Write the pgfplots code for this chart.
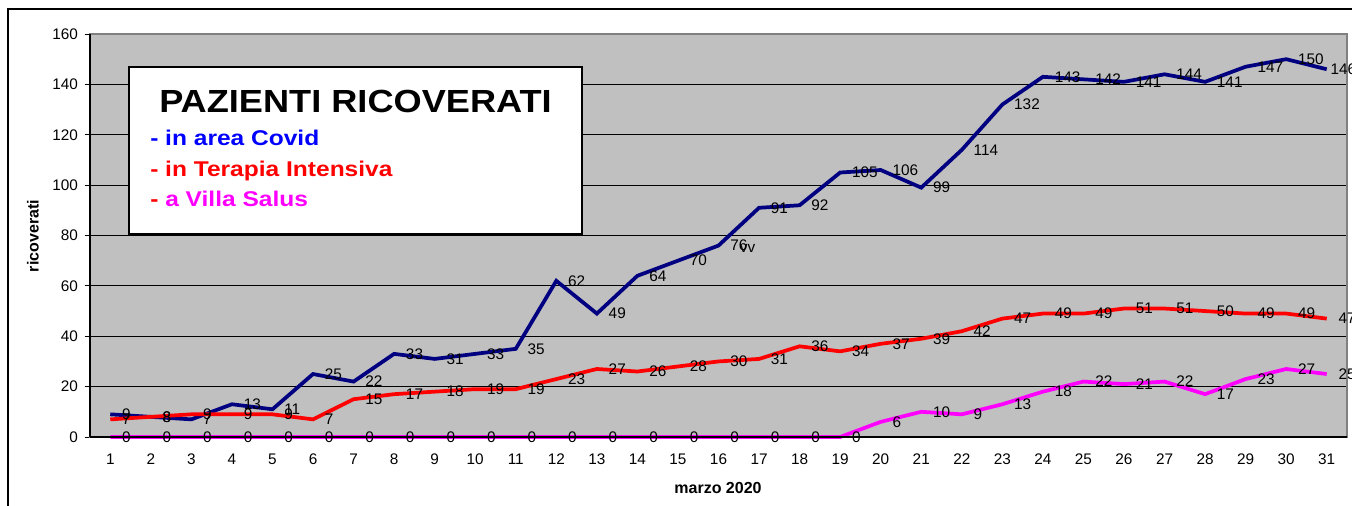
\documentclass[border=0pt]{standalone}
\usepackage{fontspec}
\setmainfont{Liberation Sans}
\usepackage{pgfplots}
\pgfplotsset{compat=1.18}
\usepackage{graphicx}
\definecolor{navy}{RGB}{0,0,128}
\definecolor{bggray}{RGB}{192,192,192}
\definecolor{frgray}{RGB}{128,128,128}
\definecolor{pblue}{RGB}{0,0,255}
\definecolor{pred}{RGB}{255,0,0}
\definecolor{pmag}{RGB}{255,0,255}
\begin{document}
\begin{tikzpicture}[x=0.75pt,y=0.75pt]
\useasboundingbox (0,0) rectangle (1352,506);
\draw[line width=0.9pt] (8,-20) -- (8,497) -- (1370,497);
\begin{axis}[
  at={(67.5pt,51.75pt)}, anchor=south west,
  scale only axis, width=942.75pt, height=302.25pt,
  xmin=0.5, xmax=31.5, ymin=0, ymax=160,
  clip=false,
  axis background/.style={fill=bggray},
  axis line style={draw=frgray, line width=0.9pt},
  tick align=outside,
  ytick pos=left, xtick pos=bottom,
  ytick={0,20,...,140}, extra y ticks={160}, extra y tick style={grid=none},
  ymajorgrids, major grid style={black, line width=0.7pt},
  xtick={1,...,31}, x tick style={draw=none},
  minor xtick={0.5,1.5,2.5,3.5,4.5,5.5,6.5,7.5,8.5,9.5,10.5,11.5,12.5,13.5,14.5,15.5,16.5,17.5,18.5,19.5,20.5,21.5,22.5,23.5,24.5,25.5,26.5,27.5,28.5,29.5,30.5,31.5},
  minor x tick style={black, line width=0.7pt},
  y tick style={black, line width=0.7pt},
  major tick length=4pt, minor tick length=4pt,
  /pgf/number format/assume math mode=true,
  tick label style={font=\fontsize{11.5}{13}\selectfont},
  xticklabel style={yshift=-5pt},
  yticklabel style={xshift=-1.5pt},
  nodes near coords,
  every node near coord/.append style={anchor=west, inner sep=0pt, xshift=7.5pt, yshift=0pt, black, font=\fontsize{11.5}{13}\selectfont},
]
\addplot[navy, line width=2.8pt, coordinate style/.condition={x>30.5}{xshift=-6pt}] coordinates {
(1,9) (2,8) (3,7) (4,13) (5,11) (6,25) (7,22) (8,33) (9,31) (10,33) (11,35) (12,62) (13,49) (14,64) (15,70) (16,76) (17,91) (18,92) (19,105) (20,106) (21,99) (22,114) (23,132) (24,143) (25,142) (26,141) (27,144) (28,141) (29,147) (30,150) (31,146)};
\addplot[pred, line width=2.8pt] coordinates {
(1,7) (2,8) (3,9) (4,9) (5,9) (6,7) (7,15) (8,17) (9,18) (10,19) (11,19) (12,23) (13,27) (14,26) (15,28) (16,30) (17,31) (18,36) (19,34) (20,37) (21,39) (22,42) (23,47) (24,49) (25,49) (26,51) (27,51) (28,50) (29,49) (30,49) (31,47)};
\addplot[pmag, line width=2.8pt] coordinates {
(1,0) (2,0) (3,0) (4,0) (5,0) (6,0) (7,0) (8,0) (9,0) (10,0) (11,0) (12,0) (13,0) (14,0) (15,0) (16,0) (17,0) (18,0) (19,0) (20,6) (21,10) (22,9) (23,13) (24,18) (25,22) (26,21) (27,22) (28,17) (29,23) (30,27) (31,25)};
\draw[black, line width=0.9pt] (rel axis cs:0,0) -- (rel axis cs:0,1);
\draw[black, line width=0.9pt] (rel axis cs:0,0) -- (rel axis cs:1,0);
\node[anchor=west, inner sep=0pt, font=\fontsize{11.5}{13}\selectfont] at (axis cs:16.52,75) {vv};
\end{axis}
\draw[fill=white, line width=1.1pt] (129,439) rectangle (582,272);
\node[anchor=base, inner sep=0pt] at (355.5,393) {\scalebox{1.13}[1]{\fontsize{24}{28}\selectfont\bfseries PAZIENTI RICOVERATI}};
\node[anchor=base west, inner sep=0pt] at (150,360) {\scalebox{1.15}[1]{\fontsize{16}{19}\selectfont\bfseries\color{pblue}- in area Covid}};
\node[anchor=base west, inner sep=0pt] at (150,329) {\scalebox{1.15}[1]{\fontsize{16}{19}\selectfont\bfseries\color{pred}- in Terapia Intensiva}};
\node[anchor=base west, inner sep=0pt] at (150,299) {\scalebox{1.15}[1]{\fontsize{16}{19}\selectfont\bfseries\color{pred}- \color{pmag}a Villa Salus}};
\node[rotate=90, font=\fontsize{12}{14}\selectfont\bfseries] at (33,270) {ricoverati};
\node[font=\fontsize{12}{14}\selectfont\bfseries] at (718,18) {marzo 2020};
\end{tikzpicture}
\end{document}
